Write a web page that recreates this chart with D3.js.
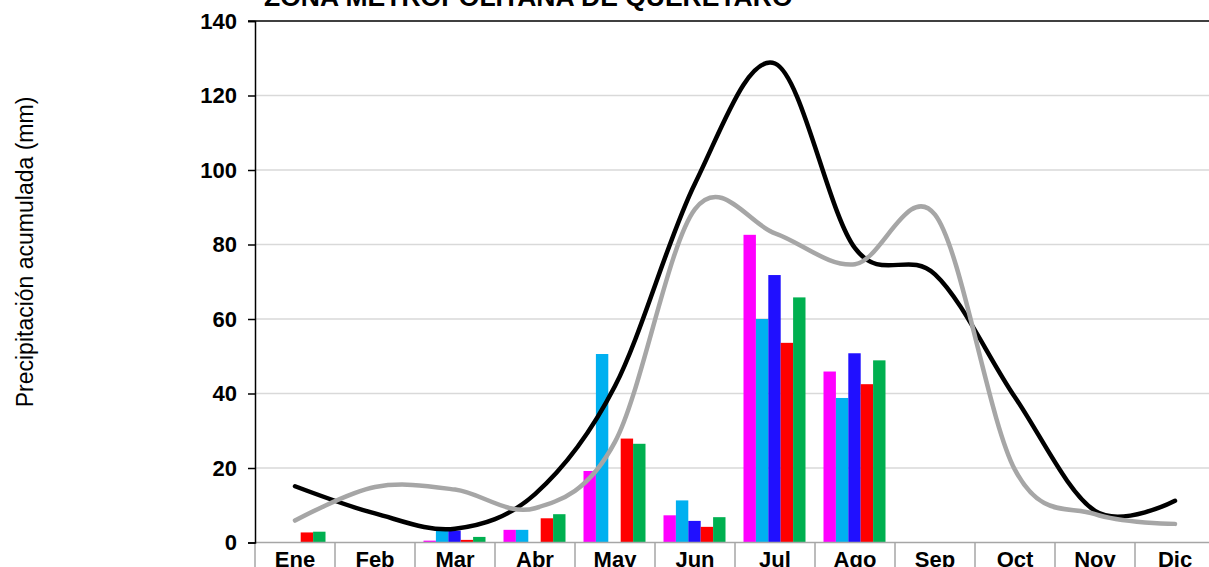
<!DOCTYPE html>
<html>
<head>
<meta charset="utf-8">
<script src="https://cdn.jsdelivr.net/npm/d3@7"></script>
<style>
  body { margin: 0; background: #fff; }
  text { font-family: Arial, "Liberation Sans", sans-serif; }
</style>
</head>
<body>
<div id="chart"></div>
<script>
// data
var months = ["Ene", "Feb", "Mar", "Abr", "May", "Jun", "Jul", "Ago", "Sep", "Oct", "Nov", "Dic"];
var yTicks = [0, 20, 40, 60, 80, 100, 120, 140];

var serie1 = [0, 0, 0.5, 3.4, 19.2, 7.3, 82.6, 45.9, 0, 0, 0, 0];
var serie2 = [0, 0, 3.2, 3.4, 50.6, 11.3, 60.0, 38.8, 0, 0, 0, 0];
var serie3 = [0, 0, 3.2, 0, 0, 5.8, 71.8, 50.8, 0, 0, 0, 0];
var serie4 = [2.7, 0, 0.7, 6.5, 27.9, 4.2, 53.6, 42.5, 0, 0, 0, 0];
var serie5 = [2.9, 0, 1.5, 7.6, 26.5, 6.8, 65.8, 48.9, 0, 0, 0, 0];

var lineaNegra = [15.1, 7.8, 3.7, 13, 42, 96.4, 128.6, 79, 72, 39, 8.5, 11.2];
var lineaGris = [5.9, 14.9, 14.2, 9.2, 27, 89.5, 83, 74.7, 88, 19.5, 7.6, 5.0];

var barSeries = [
  {name: "serie1", color: "#FF00FF", values: serie1},
  {name: "serie2", color: "#00B0F0", values: serie2},
  {name: "serie3", color: "#2010FF", values: serie3},
  {name: "serie4", color: "#FF0000", values: serie4},
  {name: "serie5", color: "#00B050", values: serie5}
];

var W = 1209, H = 567;
var margin = {top: 21, left: 255},
    plotW = 960,
    plotBottom = 542.5;

var svg = d3.select("#chart")
  .append("svg")
    .attr("width", W)
    .attr("height", H);

var x = d3.scaleBand()
  .domain(months)
  .range([margin.left, margin.left + plotW]);

var x1 = d3.scaleBand()
  .domain(barSeries.map(function(d) { return d.name; }))
  .range([8.5, 70.5]);

var y = d3.scaleLinear()
  .domain([0, 140])
  .range([plotBottom, margin.top]);

// gridlines
svg.append("g")
  .selectAll("line")
  .data(yTicks.filter(function(d) { return d > 0 && d < 140; }))
  .enter()
  .append("line")
    .attr("x1", margin.left)
    .attr("x2", margin.left + plotW)
    .attr("y1", function(d) { return y(d); })
    .attr("y2", function(d) { return y(d); })
    .attr("stroke", "#D9D9D9")
    .attr("stroke-width", 1.5);

// bars
barSeries.forEach(function(s) {
  svg.append("g")
    .selectAll("rect")
    .data(s.values)
    .enter()
    .append("rect")
      .attr("x", function(d, i) { return x(months[i]) + x1(s.name); })
      .attr("width", x1.bandwidth())
      .attr("y", function(d) { return y(d); })
      .attr("height", function(d) { return y(0) - y(d); })
      .attr("fill", s.color);
});

// x axis with category separators
var xAxis = svg.append("g")
  .attr("transform", "translate(0," + plotBottom + ")");
xAxis.append("line")
  .attr("x1", margin.left)
  .attr("x2", margin.left + plotW)
  .attr("stroke", "#A6A6A6")
  .attr("stroke-width", 1.5);
xAxis.selectAll(".sep")
  .data(months)
  .enter()
  .append("line")
    .attr("x1", function(d) { return x(d); })
    .attr("x2", function(d) { return x(d); })
    .attr("y1", 0)
    .attr("y2", 30)
    .attr("stroke", "#A6A6A6")
    .attr("stroke-width", 1.5);
xAxis.selectAll(".lbl")
  .data(months)
  .enter()
  .append("text")
    .attr("x", function(d) { return x(d) + x.bandwidth() / 2; })
    .attr("y", 24)
    .attr("text-anchor", "middle")
    .style("font-size", "22px")
    .style("font-weight", "bold")
    .text(function(d) { return d; });

// y axis
var yAxis = svg.append("g")
  .attr("transform", "translate(" + margin.left + ",0)")
  .call(d3.axisLeft(y).tickValues(yTicks).tickSize(7).tickPadding(11));
yAxis.select(".domain").attr("stroke", "#000").attr("stroke-width", 1.5);
yAxis.selectAll(".tick line").attr("stroke", "#000").attr("stroke-width", 1.5);
yAxis.selectAll(".tick text")
  .attr("fill", "#000")
  .style("font-family", "Arial, 'Liberation Sans', sans-serif")
  .style("font-size", "22px")
  .style("font-weight", "bold");

// top border
svg.append("line")
  .attr("x1", margin.left - 7)
  .attr("x2", margin.left + plotW)
  .attr("y1", margin.top)
  .attr("y2", margin.top)
  .attr("stroke", "#000")
  .attr("stroke-width", 1.5);

// smooth lines
var line = d3.line()
  .x(function(d, i) { return x(months[i]) + x.bandwidth() / 2; })
  .y(function(d) { return y(d); })
  .curve(d3.curveCatmullRom.alpha(0));

svg.append("path")
  .datum(lineaNegra)
  .attr("fill", "none")
  .attr("stroke", "#000")
  .attr("stroke-width", 4.5)
  .attr("stroke-linecap", "round")
  .attr("d", line);

svg.append("path")
  .datum(lineaGris)
  .attr("fill", "none")
  .attr("stroke", "#A6A6A6")
  .attr("stroke-width", 4.5)
  .attr("stroke-linecap", "round")
  .attr("d", line);

// title (cut at the top, as in the reference)
svg.append("text")
  .attr("x", 264)
  .attr("y", 6)
  .style("font-size", "26.5px")
  .style("font-weight", "bold")
  .text("ZONA METROPOLITANA DE QUERÉTARO");

// y axis title
svg.append("text")
  .attr("transform", "translate(33,252) rotate(-90)")
  .attr("text-anchor", "middle")
  .style("font-size", "23px")
  .text("Precipitación acumulada (mm)");
</script>
</body>
</html>
